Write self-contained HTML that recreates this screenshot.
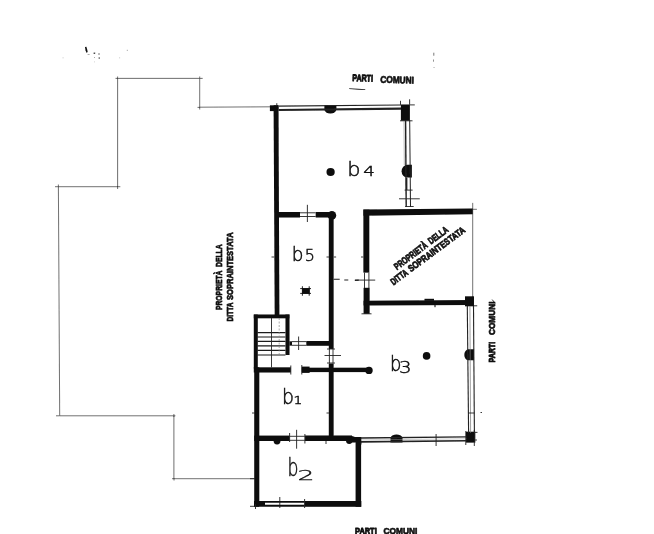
<!DOCTYPE html>
<html lang="it">
<head>
<meta charset="utf-8">
<title>Planimetria</title>
<style>
html,body{margin:0;padding:0;background:#fff;}
body{width:654px;height:534px;overflow:hidden;position:relative;}
svg{position:absolute;left:0;top:0;display:block;}
.w{fill:#0b0b0b;}
.t{stroke:#222;stroke-width:0.9;fill:none;}
.t2{stroke:#333;stroke-width:0.7;fill:none;}
.lab{font-family:"Liberation Sans",sans-serif;font-weight:700;font-size:9.6px;fill:#0d0d0d;stroke:#0d0d0d;stroke-width:0.7;stroke-linejoin:round;}
.hw{font-family:"DejaVu Sans Light","DejaVu Sans",sans-serif;font-weight:200;fill:#111;stroke:#111;}
</style>
</head>
<body>
<svg width="654" height="534" viewBox="0 0 654 534">
<defs><filter id="scan" x="0" y="0" width="654" height="534" filterUnits="userSpaceOnUse"><feGaussianBlur stdDeviation="0.35"/></filter></defs>
<rect width="654" height="534" fill="#fff"/>
<g filter="url(#scan)">

<!-- property outline (thin) -->
<g class="t2">
<path d="M272.5 106.8 L199.7 107.2 L199.7 78.4 L117.6 78.4 L117.6 186.7 L58.4 186.7 L59.7 415.8 L173.9 415.8 L173.9 478.7 L255 478.7"/>
<path d="M115.5 78.4h2.5 M199.7 78.4h3 M199.7 76.5v2 M117.6 76.5v2 M197.5 107.4h2.5 M199.7 107v2.5 M55 186.7h4 M58.4 184.5v2 M56 415.8h3.5 M172 478.7h2 M174 478v2.5 M117.6 186v3 M117 186.7h3.3 M173.9 414v3 M173.9 415.8h1.5"/>
<path d="M472.7 202.9V300 M472.7 209.3h4.2"/>
</g>

<!-- thick walls -->
<g class="w">
<!-- main west wall b4/b5 -->
<path d="M273.6 105.3h4.9L279.4 315h-4.7z"/>
<rect x="269.9" y="105.3" width="8.6" height="5.8"/>
<!-- b5 top wall -->
<rect x="278" y="212" width="22" height="5.5"/>
<rect x="315.7" y="212" width="17" height="5.5"/>
<circle cx="331.9" cy="215.4" r="4.3"/>
<!-- central vertical wall -->
<rect x="328.8" y="215" width="4.8" height="134"/>
<rect x="328.8" y="363.5" width="4.8" height="73"/>
<!-- right room -->
<path d="M363.4 209.6L472.7 208.4V214.3L363.4 215.7z"/>
<rect x="363.4" y="209.6" width="5.9" height="63"/>
<rect x="363.6" y="287.8" width="6" height="26"/>
<path d="M363.6 300.8L473 300.1V304.9L363.6 305.6z"/>
<rect x="465" y="296.3" width="9" height="10"/>
<rect x="424.5" y="298.8" width="9.5" height="2"/><rect x="434.5" y="305" width="1" height="2.2"/>
<!-- stair box + west wall b1/b2 -->
<rect x="253.8" y="314.5" width="4" height="54"/><rect x="254.2" y="367.3" width="5.1" height="139.5"/>
<rect x="253.8" y="314.5" width="35.6" height="3.8"/>
<rect x="285.5" y="314.5" width="4" height="40.5"/>
<!-- wall piece -->
<rect x="306.3" y="341" width="23.5" height="4.8"/>
<rect x="289.4" y="341.3" width="2.6" height="4.3"/>
<!-- horizontal wall y367 -->
<rect x="253.8" y="367.3" width="37" height="5.2"/>
<rect x="301.8" y="367.7" width="67.2" height="4.4"/><rect x="301.8" y="366.6" width="7.8" height="6.3"/>
<circle cx="369" cy="370.4" r="3.7"/>
<!-- b1/b2 wall -->
<rect x="254.2" y="435.6" width="35.4" height="5.4"/>
<rect x="304.9" y="435.5" width="47.1" height="5.5"/>
<path d="M347 436.2l5-0.3 3 1.2h6.3v5.5h-11.8l-2.5-1.7z"/>
<path d="M273.6 440.5h6.9a3.45 4 0 0 1-6.9 0z"/>
<path d="M346 440.6h6.5a3.2 3.4 0 0 1-6.5 0z"/>
<!-- b2 east + south -->
<rect x="355.6" y="437" width="5.5" height="69.8"/>
<rect x="304.6" y="501" width="56.7" height="5.8"/>
<path d="M254 501h50.6v1.7h-39.6v2.1h39.6v2h-50.6z"/>
<!-- b3 window corner blocks -->
<rect x="466" y="431.7" width="9.3" height="10.9"/>
<path d="M468.5 349.3h5.5v11h-5.5a4.2 5.5 0 0 1 0-11z"/>
<!-- b4 window blocks -->
<rect x="400.9" y="104.5" width="9" height="16.2"/>
<path d="M407.4 164.8h4.5v12.8h-4.5a5.8 6.4 0 0 1 0-12.8z"/>
<path d="M324.4 105.2h12v4a6 4.3 0 0 1-12 0z"/>
<!-- south window blob -->
<path d="M390.5 442.4v-4.6c1.5-4.4 10.5-4.4 12 0v4.6z"/>
<!-- dots -->
<circle cx="330.6" cy="172" r="4.1"/>
<circle cx="426.6" cy="355.9" r="3.8"/>
<!-- marker in b5 -->
<rect x="302.1" y="288.2" width="7.6" height="5.6"/><path d="M300.2 288.6h10.8 M300.2 293.4h10.8 M302.4 286.3v9.4 M309.2 286.3v9.4" stroke="#0b0b0b" stroke-width="0.9" fill="none"/>
</g>

<!-- windows (thin multi-lines) -->
<g class="t">
<!-- b4 north -->
<path d="M278.8 106.1L401 105" stroke-width="1.1"/><path d="M278.8 110L401 108.6" stroke-width="2.1"/><path d="M276.8 103.2v2.5"/>
<path d="M400.5 100.8v4 M409.6 99.3v5.5 M410 104.9h4.8 M400 120.8h12.5"/>
<!-- b4 east -->
<path d="M409.7 120L410.5 207" stroke-width="1"/><path d="M405.6 120L406.2 207" stroke-width="1.4"/><path d="M406.6 178V190" stroke-width="1.6"/><path d="M404 121L404.3 165" stroke="#888" stroke-width="0.6"/>
<path d="M399 198.8H419.8 M404.6 190.1h8 M405.2 206.5h8.5"/>
<!-- b3 east -->
<path d="M467.3 306L468.6 433" stroke-width="1.1"/><path d="M469.9 306L470.6 433" stroke="#777" stroke-width="0.7"/><path d="M473.5 306L474.4 433" stroke-width="1.1"/>
<!-- b3 south -->
<path d="M361 438L466.5 436.9" stroke-width="1.4"/><path d="M361 441.9L466.5 440.8" stroke-width="1.6"/><path d="M361 439.9L466.5 438.8" stroke="#999" stroke-width="0.5"/>
<path d="M436.1 434v12 M468 413h6.5 M480.5 412.5h1.5 M475 432.4h2.5 M475 440h2 M474.3 430v16 M465.8 431v14 M474 305.8h3.2"/>
<!-- b2 south window -->
<path d="M279.8 497v11 M304.6 499v9 M250 506.3h5 M255.5 504v5"/>
</g>

<!-- doors -->
<g class="t">
<path d="M300 212.8h15.7 M300 216.5h15.7 M307.4 204.8V222"/>
<path d="M364.5 272.6V288 M368.9 272.6V288 M355 280.1H375.2"/>
<path d="M292 341.6h14.3 M292 345.3h14.3 M298.6 336.5V350"/>
<path d="M329.4 349v14.5 M333 349v14.5 M324.5 355.5H341 M327 349h8 M327 363h8"/>
<path d="M289.6 436.3H304.9 M289.6 440.3H304.9 M296.6 429.8V448.7 M289.6 433v9 M304.9 434v9.5"/>
<path d="M290.8 365.5v9 M301.8 365v9.5"/>
<path d="M492.2 299.6l3 3.8"/>
<!-- dashed -->
<path d="M333.5 279.3h6.2 M344.3 280h4 M354.8 280.4l4-.3" stroke-width="1.1"/>
<!-- wall ticks -->
<path d="M271.5 257h3 M326.5 257h3 M333.6 257h2.5 M361 257h2.5 M252 413h3 M326.5 413h3 M361.5 313.8h10 M326 441v3 M361 441.5v3"/>
<path d="M254 478.7h-4"/>
</g>

<!-- stairs -->
<g class="t2">
<path d="M257.5 332.6h28 M257.5 337h28 M257.5 341.4h28 M257.5 345.9h28 M257.5 350.3h28 M257.5 355h28" stroke="#1a1a1a" stroke-width="1.2"/>
<path d="M279.2 318V355" stroke="#888" stroke-dasharray="2 1.5"/>
<path d="M271.5 318V367.3" stroke="#222" stroke-width="0.9"/>
</g>

<!-- handwritten room labels -->
<g class="hw">
<text font-size="100" stroke-width="2.5" transform="matrix(0.2087 0 0 0.1990 347.27 175.77)">b</text>
<text font-size="100" stroke-width="3.1" transform="matrix(0.1833 0 0 0.1358 363.35 176.05)">4</text>
<text font-size="100" stroke-width="2.7" transform="matrix(0.1837 0 0 0.1861 291.75 260.89)">b</text>
<text font-size="100" stroke-width="3.2" transform="matrix(0.1595 0 0 0.1534 304.68 260.53)">5</text>
<text font-size="100" stroke-width="2.5" transform="matrix(0.1882 0 0 0.2197 281.90 404.14)">b</text>
<text font-size="100" stroke-width="4.2" transform="matrix(0.1391 0 0 0.1015 293.52 404.45)">1</text>
<text font-size="100" stroke-width="2.4" transform="matrix(0.1724 0 0 0.2455 287.38 476.20)">b</text>
<text font-size="100" stroke-width="2.4" transform="matrix(0.2678 0 0 0.1428 297.49 479.55)">2</text>
<text font-size="100" stroke-width="2.6" transform="matrix(0.1792 0 0 0.2119 390.10 371.25)">b</text>
<text font-size="100" stroke-width="2.8" transform="matrix(0.1978 0 0 0.1613 399.04 373.22)">3</text>
</g>

<!-- printed labels -->
<g class="lab">
<g transform="rotate(1.5 352 82)">
<text x="352.2" y="81.1" textLength="20.7" lengthAdjust="spacingAndGlyphs" stroke-width="0.9">PARTI</text>
<text x="380.2" y="81.9" textLength="33.7" lengthAdjust="spacingAndGlyphs">COMUNI</text>
</g>
<text x="355" y="533.5" textLength="21.7" lengthAdjust="spacingAndGlyphs" stroke-width="0.9">PARTI</text>
<text x="383.5" y="533.5" textLength="33.8" lengthAdjust="spacingAndGlyphs">COMUNI</text>
<g transform="translate(495.2 362.4) rotate(-90)">
<text x="0" y="0" textLength="20.5" lengthAdjust="spacingAndGlyphs" stroke-width="0.9">PARTI</text>
<text x="27.3" y="0" textLength="33.7" lengthAdjust="spacingAndGlyphs">COMUNI</text>
</g>
<g transform="translate(221.8 310.1) rotate(-90)">
<text x="0" y="0" textLength="39.6" lengthAdjust="spacingAndGlyphs">PROPRIETÀ</text>
<text x="43.1" y="0" textLength="22.7" lengthAdjust="spacingAndGlyphs">DELLA</text>
</g>
<g transform="translate(232.7 321.4) rotate(-90)">
<text x="0" y="0" textLength="18.9" lengthAdjust="spacingAndGlyphs">DITTA</text>
<text x="21.4" y="0" textLength="67.6" lengthAdjust="spacingAndGlyphs">SOPRAINTESTATA</text>
</g>
<g transform="translate(397.1 270.2) rotate(-37)">
<text x="0" y="0" textLength="39.2" lengthAdjust="spacingAndGlyphs">PROPRIETÀ</text>
<text x="42.6" y="0" textLength="22.5" lengthAdjust="spacingAndGlyphs">DELLA</text>
</g>
<g transform="translate(393.5 285.4) rotate(-36.7)">
<text x="0" y="0" textLength="19" lengthAdjust="spacingAndGlyphs">DITTA</text>
<text x="21.8" y="0" textLength="68.5" lengthAdjust="spacingAndGlyphs">SOPRAINTESTATA</text>
</g>
</g>

<!-- scan specks -->
<g fill="#555">
<path d="M349.2 88.2l9 .6 7 .5v.7l-7-.3-9-.6z" fill="#222"/>
<path d="M85 47l1.4 -.2 .7 2.4 .6 2.6 -1 1.2 -1.2 -2.4z" fill="#111"/>
<rect x="93.6" y="52.6" width="1.6" height="1.2" fill="#222"/><rect x="98.3" y="53.5" width="1.4" height="1" fill="#444"/><rect x="98.6" y="57.4" width="1.3" height="1.3" fill="#444"/>
<rect x="87.6" y="54" width="2" height="0.8" fill="#999"/><rect x="94" y="57" width="0.9" height="0.9" fill="#999"/><rect x="126.8" y="49.8" width="1" height="1" fill="#999"/><rect x="62.6" y="57.4" width="0.9" height="0.9" fill="#bbb"/><rect x="119.2" y="57.4" width="0.9" height="0.9" fill="#bbb"/><rect x="94" y="61.5" width="0.8" height="0.8" fill="#bbb"/>
<rect x="433.3" y="52.7" width="1" height="3" fill="#777"/><rect x="433.1" y="59.5" width="0.8" height="2.2" fill="#777"/><rect x="433.4" y="67" width="1.3" height="0.8" fill="#aaa"/>
</g>
</g>
</svg>
</body>
</html>
